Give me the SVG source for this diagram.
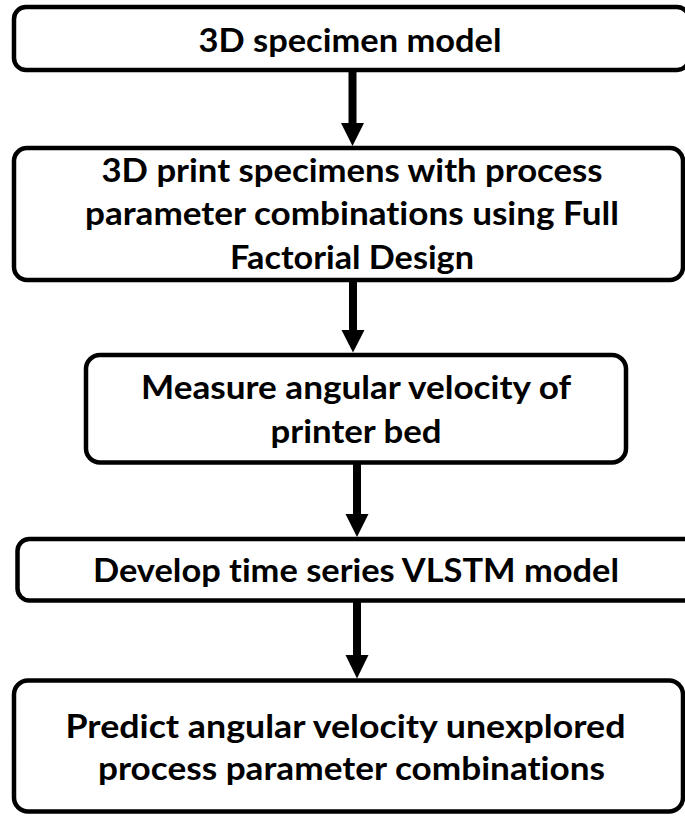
<svg xmlns="http://www.w3.org/2000/svg" width="685" height="816" viewBox="0 0 685 816">
  <style>
    .box { fill: #ffffff; stroke: #000000; stroke-width: 4.5; }
    .label { font-family: Lato, "Open Sans", "Liberation Sans", sans-serif; font-weight: bold; font-size: 33px; fill: #000000; text-anchor: middle; font-variant-ligatures: none; }
    .shaft { stroke: #000000; stroke-width: 8; fill: none; }
    .head { fill: #000000; stroke: none; }
  </style>
  <rect width="685" height="816" fill="#ffffff"/>

  <!-- flow connectors: thick shaft plus a filled triangular head -->
  <g id="connectors">
    <line class="shaft" x1="352.5" y1="72" x2="352.5" y2="126"/>
    <polygon class="head" points="341,123 364,123 352.5,146"/>

    <line class="shaft" x1="353" y1="281" x2="353" y2="333"/>
    <polygon class="head" points="341.5,330 364.5,330 353,352.5"/>

    <line class="shaft" x1="357" y1="464" x2="357" y2="517"/>
    <polygon class="head" points="345.5,514 368.5,514 357,537"/>

    <line class="shaft" x1="357" y1="602" x2="357" y2="658"/>
    <polygon class="head" points="345.5,655 368.5,655 357,678.5"/>
  </g>

  <g id="node-model">
    <rect class="box" x="14" y="7" width="675" height="63" rx="12"/>
    <text class="label" x="350" y="52" textLength="303" lengthAdjust="spacingAndGlyphs">3D specimen model</text>
  </g>

  <g id="node-print">
    <rect class="box" x="14" y="148" width="669" height="132" rx="13"/>
    <text class="label" x="352" y="182" textLength="501" lengthAdjust="spacingAndGlyphs">3D print specimens with process</text>
    <text class="label" x="352" y="225" textLength="534" lengthAdjust="spacingAndGlyphs">parameter combinations using Full</text>
    <text class="label" x="352" y="269" textLength="244" lengthAdjust="spacingAndGlyphs">Factorial Design</text>
  </g>

  <g id="node-measure">
    <rect class="box" x="86" y="355" width="540" height="107.5" rx="14"/>
    <text class="label" x="356" y="399" textLength="430" lengthAdjust="spacingAndGlyphs">Measure angular velocity of</text>
    <text class="label" x="356" y="443" textLength="171" lengthAdjust="spacingAndGlyphs">printer bed</text>
  </g>

  <g id="node-vlstm">
    <rect class="box" x="17.5" y="539" width="680" height="61.5" rx="12"/>
    <text class="label" x="356" y="582" textLength="526" lengthAdjust="spacingAndGlyphs">Develop time series VLSTM model</text>
  </g>

  <g id="node-predict">
    <rect class="box" x="14" y="680.5" width="669" height="131" rx="14"/>
    <text class="label" x="345.5" y="738" textLength="560" lengthAdjust="spacingAndGlyphs">Predict angular velocity unexplored</text>
    <text class="label" x="351.5" y="780" textLength="507" lengthAdjust="spacingAndGlyphs">process parameter combinations</text>
  </g>
</svg>
